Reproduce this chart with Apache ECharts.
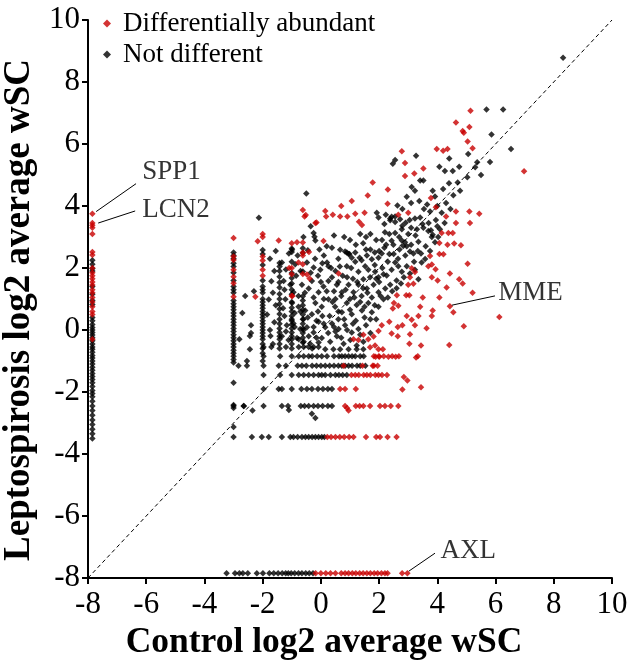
<!DOCTYPE html>
<html>
<head>
<meta charset="utf-8">
<script src="https://cdn.jsdelivr.net/npm/echarts@6/dist/echarts.min.js"></script>
<style>html,body{margin:0;padding:0;background:#fff}#c{width:630px;height:665px}</style>
</head>
<body>
<div id="c"></div>
<script>
// ---------- DATA ----------
const xTicks = [-8, -6, -4, -2, 0, 2, 4, 6, 8, 10];
const yTicks = [-8, -6, -4, -2, 0, 2, 4, 6, 8, 10];
const absentValue = -7.85; // log2 value plotted for proteins not detected in one group

// proteins absent in control (left column)
const redLeftY = [3.75, 3.45, 3.38, 3.3, 3.1, 2.52, 2.42, 2.0, 1.85, 1.75, 1.65, 1.55, 1.45, 1.3, 1.2, 1.05, 0.9, 0.75, 0.6, 0.5, -0.3];
const blackLeftY = [2.25, 2.12, 1.98, 1.9, 1.4, 1.15, 0.95, 0.82, 0.4, 0.3, 0.18, 0.08, 0, -0.08, -0.16, -0.25, -0.35, -0.45, -0.55, -0.62, -0.72, -0.82, -0.9, -1.0, -1.1, -1.2, -1.3, -1.4, -1.5, -1.6, -1.7, -1.82, -1.95, -2.05, -2.15, -2.3, -2.45, -2.6, -2.75, -2.9, -3.05, -3.2, -3.35, -3.5];
// proteins absent in leptospirosis (bottom row)
const blackBottomX = [-3.24, -2.95, -2.8, -2.68, -2.51, -2.2, -1.99, -1.77, -1.62, -1.47, -1.33, -1.21, -1.12, -1.02, -0.9, -0.77, -0.65, -0.52, -0.4, -0.27];
const redBottomX = [-0.18, 0.0, 0.17, 0.33, 0.5, 0.7, 0.83, 0.95, 1.08, 1.2, 1.33, 1.45, 1.58, 1.7, 1.83, 1.95, 2.08, 2.2, 2.29, 2.79, 2.97];

// vertical columns of the cluster (control value fixed)
const colXm3 = -3.0;
const colM3Black = [2.5, 2.4, 2.3, 2.15, 2.05, 1.85, 1.6, 1.4, 1.3, 1.2, 0.95, 0.85, 0.75, 0.65, 0.55, 0.45, 0.35, 0.25, 0.15, 0.05, -0.05, -0.15, -0.25, -0.35, -0.45, -0.55, -0.65, -0.75, -0.85, -0.95, -1.05, -1.7, -2.42, -2.52, -3.13];
const colM3Red = [2.97, 2.37, 2.26, 1.94, 1.72, 1.51, 1.07];
const colXm2 = -2.0;
const colM2Black = [2.58, 2.45, 2.1, 1.6, 1.4, 1.3, 1.2, 1.0, 0.9, 0.8, 0.7, 0.6, 0.5, 0.4, 0.3, 0.2, 0.1, 0, -0.1, -0.2, -0.3, -0.45, -0.6, -0.75, -1.0];
const colM2Red = [3.1, 3.0, 2.37, 2.24, 1.94, 1.75];
const colXm14 = -1.42;
const colM14Black = [2.16, 2.05, 1.9, 1.72, 1.53, 1.37, 1.16, 1.0, 0.84, 0.68, 0.52, 0.35, 0.2, 0.05, -0.08, -0.2, -0.3, -0.45, -0.6];
const colXm1 = -1.0;
const colM1Black = [2.63, 2.52, 2.2, 1.84, 1.68, 1.5, 1.3, 1.15, 0.9, 0.72, 0.6, 0.45, 0.3, 0.18, 0.05, -0.08, -0.2, -0.3, -0.45, -0.6];
const colM1Red = [2.8, 2.0, 1.8, 1.1];
const colXm06 = -0.62;
const colM06Black = [2.64, 2.48, 1.89, 1.09, 0.95, 0.8, 0.65, 0.5, 0.35, 0.2, 0.05, -0.1, -0.25, -0.4];
const colM06Red = [3.87, 2.82, 2.5, 2.4, 2.12, 1.81];

// horizontal rows of the cluster (leptospirosis value fixed)
const rowY345 = -3.45;
const row345Black = [-3.0, -2.37, -2.03, -1.79, -1.34, -1.05, -0.94, -0.8, -0.65, -0.53, -0.42, -0.3, -0.19, -0.08, 0.03, 0.12];
const row345Red = [0.22, 0.35, 0.5, 0.65, 0.8, 0.97, 1.12, 1.55, 1.9, 2.03, 2.29, 2.6];
const rowY245 = -2.45;
const row245Black = [-3.0, -2.65, -1.97, -1.34, -1.13, -0.69, -0.56, -0.42, -0.25, -0.1, 0.06, 0.24, 0.38];
const row245Red = [0.83, 1.2, 1.33, 1.46, 1.69, 2.03, 2.2, 2.4, 2.66];
const rowY19 = -1.9;
const row19Black = [-1.97, -1.45, -1.34, -1.0, -0.67, -0.48, -0.31, -0.1, 0.07, 0.24, 0.38];
const row19Red = [0.66, 0.83, 1.2];
const rowY145 = -1.45;
const row145Black = [-1.97, -1.4, -1.0, -0.76, -0.59, -0.42, -0.25, -0.08, 0.03, 0.15, 0.33, 0.5, 0.62, 0.75, 0.89];
const row145Red = [1.05, 1.18, 1.3, 1.47, 1.58, 1.7, 1.87, 1.98, 2.1, 2.27];
const rowY115 = -1.15;
const row115Black = [-2.83, -2.54, -1.97, -1.45, -1.2, -0.8, -0.65, -0.5, -0.3, -0.15, 0.0, 0.15, 0.3, 0.45, 0.6, 0.72, 0.83, 0.95, 1.07, 1.24, 1.35, 1.53];
const row115Red = [0.78, 1.43, 1.82, 1.95];
const rowY085 = -0.85;
const row085Black = [-1.97, -1.4, -1.0, -0.76, -0.59, -0.42, -0.3, -0.13, 0.03, 0.21, 0.45, 0.62, 0.72, 0.83, 0.95, 1.07, 1.18, 1.35, 1.47];
const row085Red = [1.82, 1.99, 2.16, 2.45, 2.68, 3.33];
const rowY055 = -0.55;
const row055Black = [-1.97, -1.7, -1.2, -0.76, -0.59, -0.42, -0.25, -0.08];

// remaining individual proteins [control, leptospirosis]
const blackScatter = [
  [8.32,8.78],[5.69,7.11],[6.26,7.11],[5.86,6.31],[6.53,5.84],[4.41,5.53],[5.06,5.68],[5.37,5.41],[5.81,5.42],
  [4.07,5.27],[4.26,5.13],[4.53,5.13],[4.75,5.27],[5.03,4.93],[5.5,5.0],[4.7,4.76],[4.4,4.73],[4.78,4.49],
  [2.47,5.36],[2.55,5.48],[3.27,5.62],[3.41,4.82],[3.52,4.82],[3.12,4.61],[3.23,4.49],[3.84,4.49],[3.92,4.31],
  [3.38,4.16],[3.54,3.9],[3.75,3.82],[4.15,3.78],[-0.5,4.4],[-2.13,3.62],[2.63,4.02],[2.8,3.9],[1.92,3.78],[1.98,3.63],
  [2.23,3.72],[2.38,3.6],[2.55,3.48],[2.43,3.65],[2.72,3.57],[2.91,3.46],[3.1,3.3],[2.8,3.36],[3.23,3.6],
  [3.41,3.63],[3.49,3.42],[3.3,3.25],[3.78,3.22],[3.84,3.07],[4.09,3.25],[4.03,3.0],[3.92,2.83],
  [-0.25,3.13],[-0.22,3.01],[-0.19,2.89],[-0.99,2.59],[-1.1,2.47],[-0.45,2.57],[0.38,2.65],[0.66,2.59],
  [0.89,2.5],[0.98,2.45],[1.18,2.5],[1.33,2.33],[1.58,2.4],[1.75,2.28],[1.98,2.33],[2.18,2.65],[2.24,2.75],
  [2.09,2.47],[2.43,2.88],[2.49,2.75],[2.78,2.89],[2.89,2.83],[2.83,2.71],[3.06,2.53],[3.18,2.47],[3.33,2.55],
  [3.44,2.47],[3.58,2.29],[2.55,3.13],[2.69,3.0],[2.78,3.25],[2.18,3.42],[2.38,3.54],[2.55,3.66],[3.52,3.3],
  [3.69,3.19],[3.81,3.0],[-1.34,2.18],[-0.88,2.12],[-0.48,2.18],[-0.25,2.02],[-0.02,1.94],[0.21,2.18],[0.26,2.06],
  [0.83,2.53],[0.95,2.45],[1.06,2.33],[1.18,2.2],[0.89,2.06],[1.04,2.0],[1.29,1.88],[1.52,2.06],[1.63,1.94],
  [1.69,1.7],[1.86,1.88],[1.98,1.7],[2.11,2.0],[2.26,1.76],[2.43,1.94],[2.55,2.18],[2.66,2.06],[2.78,1.88],
  [2.95,2.06],[3.06,1.82],[3.23,1.94],[3.35,1.64],[3.46,2.18],[-1.28,1.58],[-1.05,1.46],[-0.94,1.22],
  [-0.77,1.1],[-0.65,1.46],[-0.42,1.34],[-0.31,1.58],[-0.08,1.22],[0.09,1.4],[0.26,1.58],[0.38,1.7],[0.55,1.46],
  [0.72,1.22],[0.95,1.46],[1.12,1.22],[1.29,1.46],[1.46,1.64],[1.58,1.34],[1.81,1.46],[1.98,1.22],[2.15,0.99],
  [2.21,1.34],[2.38,1.46],[-1.22,0.99],[-0.99,0.87],[-0.77,0.75],[-0.54,0.63],[-0.31,0.51],[-0.19,0.87],
  [0.03,0.75],[0.26,0.99],[0.49,0.75],[0.72,0.57],[0.89,0.87],[1.06,0.51],[1.23,0.81],[1.41,0.63],[1.63,0.87],
  [1.75,0.57],[1.98,0.75],[-1.17,0.15],[-0.94,0.21],[-0.71,0.03],[-0.48,0.09],[-0.25,-0.08],[-0.08,0.27],
  [0.15,0.09],[0.38,0.21],[0.61,0.03],[0.83,0.15],[1.06,-0.08],[1.29,0.03],[-1.34,-0.2],[-1.11,-0.32],
  [-0.82,-0.26],[-0.59,-0.38],[-0.37,-0.44],[0.03,-0.26],[0.32,-0.38],[0.55,-0.2],[0.78,-0.44],[1.01,-0.32],
  [1.23,-0.5],[1.46,-0.38],[0.15,-0.62],[0.43,-0.62],[0.66,-0.62],[0.95,-0.62],[1.23,-0.62],[1.46,-0.62],
  [0.5,1.0],[0.7,1.1],[1.0,1.0],[1.4,1.1],[1.6,1.2],[1.2,0.3],[1.5,0.4],[0.3,0.45],[0.6,0.35],[-0.1,0.6],
  [-0.6,0.35],[-0.9,0.55],[0.1,1.0],[0.45,1.25],[1.75,1.05],[1.9,0.35],[2.0,1.55],[1.85,2.1],[2.3,2.2],
  [2.0,2.55],[1.7,2.6],[1.45,2.8],[2.1,2.9],[2.35,3.1],[1.55,3.0],[1.2,2.75],[0.6,2.3],[0.1,2.4],[-0.2,2.3],
  [-0.7,1.9],[-0.35,1.85],[0.5,1.9],[0.75,1.75],[1.1,1.65],[2.6,1.6],[2.9,2.4],[3.1,2.75],[3.25,3.05],
  [3.0,3.1],[3.7,3.45],[3.95,3.55],[4.3,4.1],[4.55,4.35],[4.2,4.55],[5.3,5.25],
  [-2.6,1.1],[-2.3,1.25],[-1.7,1.57],[-1.79,0.98],[-1.73,-0.19],[-2.44,-0.19],[-2.44,-0.62],[-2.54,-1.0],
  [-2.4,0.15],[-2.4,-0.1],[-2.65,-2.45],[-2.35,-2.6],[-1.1,-2.58],[-0.31,-2.7],[-0.19,-2.84],
  [-0.76,-0.3],[-0.59,0.0],[-0.42,-0.2],[-0.25,0.1],[-0.08,-0.4],[0.1,0.2],[-0.9,0.1],[-0.3,-0.6],[0.5,-0.05],
  [-1.2,-0.05],[-1.25,0.45],[-1.55,0.8],[-1.6,0.25],[-1.65,-0.45],[-1.85,0.5],[-2.7,0.55],[-2.8,-0.3],
  [-0.85,1.75],[-0.55,1.2],[-0.25,1.05],[0.0,1.55],[0.2,1.25],[0.4,0.9],[0.6,0.6],[0.8,0.35],[1.0,0.65],
  [1.15,1.05],[1.35,0.9],[1.5,0.75],[1.7,0.35],[1.85,0.8],[2.05,1.1],[2.3,1.05],[2.45,1.25],[2.6,1.35],
  [2.75,1.5],[2.85,1.7],[2.5,2.45],[2.7,2.6],[2.95,2.7],[3.2,2.2],[3.35,2.85],[3.6,2.7],[3.75,2.55],
  [4.0,3.35],[4.25,3.45],[4.45,3.9],[4.0,4.0],[3.65,4.05],[3.1,4.1],[2.95,4.3],[3.05,3.55],[1.7,3.1],
  [1.9,2.9],[2.2,3.15],[1.35,3.1],[1.0,2.9],[0.8,3.0],[0.45,3.05],[0.2,2.7],[-0.05,2.6],[-0.6,3.0],
  [-0.35,3.35],[-0.8,2.4],[-1.2,1.95],[-1.6,1.9],[-1.75,2.3],[-1.55,2.55],[-1.25,1.3],[-1.65,1.2],
  [-1.3,0.7],[-1.75,0.0],[-0.15,-0.25],[0.25,-0.1],[0.45,0.1],[0.7,-0.25],[0.9,0.0],[1.1,0.2],[1.35,-0.15],
  [1.55,0.15],[1.7,-0.1],[0.05,0.45],[-0.45,0.4],[-0.7,0.6],[-1.0,0.35],[-0.15,0.3],[0.85,1.3],[1.25,1.55],
  [1.45,1.35],[1.9,1.65],[2.15,1.8],[2.35,2.45],[2.65,2.3],[0.35,2.0],[0.65,2.05],[1.4,2.25],[1.55,2.6],
  [1.85,2.5],[0.05,2.15],[-0.1,1.75],[0.6,1.55],[0.9,1.7]
];
const redScatter = [
  [5.14,7.07],[4.64,6.69],[5.1,6.55],[4.87,6.42],[4.91,6.36],[5.04,6.08],[5.21,5.86],[6.98,5.12],[3.98,5.84],
  [4.2,5.78],[4.35,5.84],[2.78,5.77],[2.89,5.39],[2.89,4.97],[3.52,5.21],[3.21,5.05],[2.3,4.53],[1.78,4.76],
  [3.78,4.26],[3.95,3.96],[1.61,4.34],[1.06,4.16],[0.7,4.0],[2.29,4.07],[2.66,3.72],[3.0,3.78],[-0.56,3.66],
  [0.15,3.84],[0.18,3.66],[0.41,3.72],[-0.19,3.45],[0.66,3.66],[0.91,3.66],[1.18,3.75],[1.5,3.78],[1.31,3.49],
  [1.41,3.39],[4.3,3.66],[4.64,3.82],[4.64,3.45],[5.1,3.82],[5.44,3.75],[5.12,3.45],[4.15,3.13],[4.38,3.13],
  [4.53,3.13],[4.07,2.81],[4.07,2.45],[4.35,2.75],[4.58,2.79],[4.81,2.73],[3.75,2.39],[3.69,2.06],[3.94,1.96],
  [4.21,2.44],[5.04,2.14],[4.43,1.82],[4.75,1.64],[4.87,1.5],[5.21,1.2],[4.43,0.77],[4.55,0.57],[6.13,0.42],
  [4.91,0.12],[4.41,-0.48],[4.07,1.05],[4.32,1.37],[4.01,1.6],[3.81,1.7],[3.81,2.11],[3.12,1.99],[3.23,1.87],
  [3.06,1.7],[3.0,1.46],[3.18,1.49],[2.93,1.12],[3.04,1.12],[2.61,1.12],[2.51,0.87],[2.66,0.78],[2.47,0.69],
  [3.41,0.75],[3.5,1.05],[3.35,0.45],[3.84,0.63],[3.81,0.45],[2.95,0.45],[3.12,0.33],[3.23,0.15],[2.8,0.15],
  [2.64,0.1],[3.63,0.06],[2.35,0.27],[2.09,0.15],[1.98,-0.03],[1.81,-0.21],[1.46,-0.15],[1.63,-0.3],[3.06,-0.14],
  [3.04,-0.44],[3.44,-0.5],[2.64,-0.2],[2.43,-0.11],[1.12,-0.3],[1.29,-0.32],[1.69,-0.56],[1.86,-0.5],[1.98,-0.62],
  [2.13,-0.62],[1.88,-0.86],[2.01,-0.86],[2.32,-0.86],[2.57,-0.86],[3.27,-0.89],[1.78,-1.15],[2.85,-1.52],
  [2.97,-1.63],[2.8,-1.92],[3.44,-1.85],[0.95,-2.6],[0.9,-2.52],
  [-0.52,3.71],[-0.15,3.47],[-0.41,2.52],[-0.39,1.66],[-1.09,2.0],[-0.98,1.1],[-2.17,2.86],[-2.25,1.07],
  [-1.45,2.89],[-0.82,2.83],[0.09,2.87],[-0.77,2.18],[-0.48,1.79],[0.61,1.82]
];

// labelled proteins: leader line start (at the point), line end, text anchor
const annotations = [
  { name: 'SPP1', from: [-7.72, 3.82], to: [-6.35, 4.72], text: [-6.14, 5.1] },
  { name: 'LCN2', from: [-7.65, 3.45], to: [-6.38, 3.84], text: [-6.14, 3.87] },
  { name: 'MME',  from: [4.5, 0.8],    to: [5.98, 1.1],   text: [6.09, 1.2] },
  { name: 'AXL',  from: [3.02, -7.78], to: [3.92, -7.2],  text: [4.11, -7.12] }
];
const diagonal = [[-8, -8], [10, 10]];

// ---------- BUILD ----------
const col = (x, ys) => ys.map(y => [x, y]);
const row = (xs, y) => xs.map(x => [x, y]);
const blackPts = [].concat(
  col(absentValue, blackLeftY), row(blackBottomX, absentValue),
  col(colXm3, colM3Black), col(colXm2, colM2Black), col(colXm14, colM14Black), col(colXm1, colM1Black), col(colXm06, colM06Black),
  row(row345Black, rowY345), row(row245Black, rowY245), row(row19Black, rowY19), row(row145Black, rowY145),
  row(row115Black, rowY115), row(row085Black, rowY085), row(row055Black, rowY055),
  blackScatter
);
const redPts = [].concat(
  col(absentValue, redLeftY), row(redBottomX, absentValue),
  col(colXm3, colM3Red), col(colXm2, colM2Red), col(colXm1, colM1Red), col(colXm06, colM06Red),
  row(row345Red, rowY345), row(row245Red, rowY245), row(row19Red, rowY19), row(row145Red, rowY145),
  row(row115Red, rowY115), row(row085Red, rowY085),
  redScatter
);

const FONT = '"Liberation Serif", "Times New Roman", serif';
const RED = '#c80000';
const axisCommon = {
  type: 'value', min: -8, max: 10, interval: 2,
  axisLine: { onZero: false, lineStyle: { color: '#000', width: 2 } },
  axisTick: { show: true, inside: false, length: 6, lineStyle: { color: '#000', width: 2 } },
  splitLine: { show: false },
  nameLocation: 'middle'
};

const series = [
  { type: 'line', data: diagonal, symbol: 'none', silent: true, z: 1,
    lineStyle: { color: '#000', width: 1, type: [4, 3] } },
  { name: 'Not different', type: 'scatter', data: blackPts, symbol: 'diamond', symbolSize: 6.5,
    itemStyle: { color: '#000' }, z: 3 },
  { name: 'Differentially abundant', type: 'scatter', data: redPts, symbol: 'diamond', symbolSize: 6.5,
    itemStyle: { color: RED }, z: 4 }
];
annotations.forEach(a => {
  series.push({ type: 'line', data: [a.from, a.to], symbol: 'none', silent: true, z: 5,
    lineStyle: { color: '#000', width: 1 } });
});
series.push({
  type: 'scatter', silent: true, z: 6, symbolSize: 0,
  data: annotations.map(a => ({ name: a.name, value: a.text })),
  label: { show: true, position: 'right', distance: 0, formatter: p => p.name,
    fontFamily: FONT, fontSize: 27, color: '#000' }
});

const chart = echarts.init(document.getElementById('c'), null, { renderer: 'canvas' });
chart.setOption({
  animation: false,
  backgroundColor: '#fff',
  grid: { left: 88, right: 18, top: 20, bottom: 87, containLabel: false, outerBoundsMode: 'none' },
  legend: {
    data: ['Differentially abundant', 'Not different'],
    orient: 'vertical', left: 103, top: 10, padding: 0, itemGap: 4,
    itemWidth: 8, itemHeight: 8, icon: 'diamond',
    textStyle: { fontFamily: FONT, fontSize: 27, color: '#000', lineHeight: 27, padding: [0, 0, 0, 7] }
  },
  xAxis: Object.assign({}, axisCommon, {
    name: 'Control log2 average wSC', nameGap: 46,
    nameTextStyle: { fontFamily: FONT, fontWeight: 'bold', fontSize: 35.5, color: '#000', padding: [0, 52, 0, 0] },
    axisLabel: { fontFamily: FONT, fontSize: 31, color: '#000', margin: 11 }
  }),
  yAxis: Object.assign({}, axisCommon, {
    name: 'Leptospirosis log2 average wSC', nameGap: 47,
    nameTextStyle: { fontFamily: FONT, fontWeight: 'bold', fontSize: 37, color: '#000', padding: [0, 22, 0, 0] },
    axisLabel: { fontFamily: FONT, fontSize: 31, color: '#000', margin: 8 }
  }),
  series: series
});
</script>
</body>
</html>
